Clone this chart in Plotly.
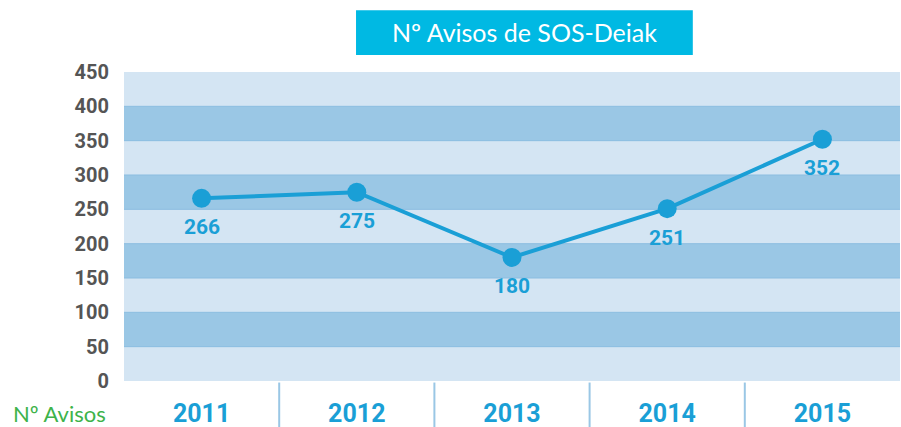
import plotly.graph_objects as go

years = ["2011", "2012", "2013", "2014", "2015"]
avisos = [266, 275, 180, 251, 352]
y_ticks = [0, 50, 100, 150, 200, 250, 300, 350, 400, 450]

BLUE = "#1a9fd6"
LIGHT = "#d4e5f3"
DARK = "#9ac7e5"

fig = go.Figure()

fig.add_trace(go.Scatter(
    x=years,
    y=avisos,
    mode="lines+markers",
    line={"color": BLUE, "width": 4},
    marker={"color": BLUE, "size": 19},
    cliponaxis=False,
    showlegend=False,
))

# alternating horizontal bands
shapes = []
for i in range(len(y_ticks) - 1):
    shapes.append(dict(
        type="rect", xref="paper", yref="y", x0=0, x1=1,
        y0=y_ticks[i], y1=y_ticks[i + 1],
        fillcolor=DARK if i % 2 else LIGHT, line_width=0, layer="below",
    ))
    if i > 0:
        shapes.append(dict(
            type="line", xref="paper", yref="y", x0=0, x1=1,
            y0=y_ticks[i], y1=y_ticks[i], line={"color": "#8bbde0", "width": 1},
            layer="below",
        ))

# separators between the year labels
for k in range(len(years) - 1):
    shapes.append(dict(
        type="line", xref="x", yref="paper", x0=k + 0.5, x1=k + 0.5,
        y0=-0.16, y1=-0.005, line={"color": DARK, "width": 2},
    ))

# title box
shapes.append(dict(
    type="rect", xref="paper", yref="paper", x0=0.299, x1=0.733,
    y0=1.055, y1=1.2, fillcolor="#00b9e3", line_width=0,
))

# value labels under the points (category index as x)
annotations = [
    dict(x=i, y=v, text=str(v), showarrow=False, yshift=-29,
         font={"size": 21, "family": "Roboto", "color": BLUE, "weight": "bold"})
    for i, v in enumerate(avisos)
]
annotations += [
    dict(text="Nº Avisos de SOS-Deiak", xref="paper", yref="paper",
         x=0.516, y=1.128, xanchor="center", yanchor="middle", showarrow=False,
         font={"size": 25, "family": "Lato", "color": "#ffffff"}),
    dict(text="Nº Avisos", xref="paper", yref="paper", x=-0.021, y=-0.104,
         xanchor="right", yanchor="middle", showarrow=False,
         font={"size": 22, "family": "Lato", "color": "#3db34a"}),
]

fig.update_layout(
    width=901, height=427,
    margin={"l": 124, "r": 1, "t": 72, "b": 46},
    paper_bgcolor="#ffffff",
    plot_bgcolor=LIGHT,
    shapes=shapes,
    annotations=annotations,
    xaxis={
        "type": "category", "range": [-0.5, len(years) - 0.5],
        "showgrid": False, "zeroline": False, "showline": False,
        "ticks": "", "ticklabelstandoff": 15, "automargin": False,
        "tickfont": {"size": 25, "family": "Roboto", "color": BLUE, "weight": "bold"},
    },
    yaxis={
        "range": [0, 450], "tickvals": y_ticks, "showgrid": False,
        "zeroline": False, "showline": False, "ticks": "",
        "ticklabelstandoff": 14, "automargin": False,
        "tickfont": {"size": 20, "family": "Roboto", "color": "#555555", "weight": "bold"},
    },
)

# drop the default page margin so the figure fills the window
fig.write_html(
    "out.html",
    config={"displayModeBar": False},
    post_script="document.body.style.margin = '0';",
)
